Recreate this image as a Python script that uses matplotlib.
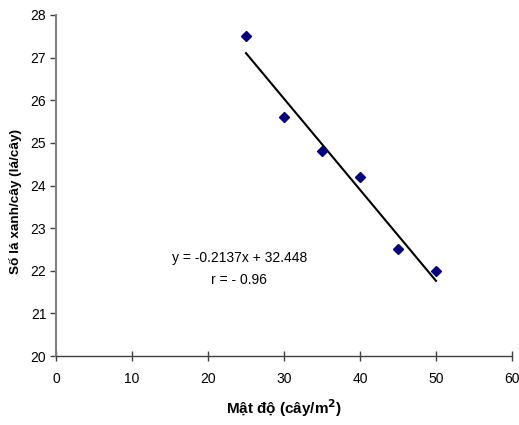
import numpy as np
import matplotlib
matplotlib.use('Agg')
import matplotlib.pyplot as plt

plt.rcParams['font.family'] = ['Liberation Sans', 'DejaVu Sans']

# mật độ trồng (cây/m2) và số lá xanh trên cây
mat_do = [25, 30, 35, 40, 45, 50]
so_la = [27.5, 25.6, 24.8, 24.2, 22.5, 22.0]
he_so_a = -0.2137
he_so_b = 32.448
phuong_trinh = 'y = -0.2137x + 32.448'
tuong_quan = 'r = - 0.96'

fig = plt.figure(figsize=(5.19, 4.25), dpi=100)
ax = fig.add_axes([56 / 519, 69 / 425, 456 / 519, 341 / 425])

x_line = np.array([min(mat_do), max(mat_do)])
ax.plot(x_line, he_so_a * x_line + he_so_b, color='black', lw=1.5, zorder=2)
ax.plot(mat_do, so_la, ls='none', marker='D', markersize=5.5, color='#000080', zorder=3)

ax.set_xlim(0, 60)
ax.set_ylim(20, 28)
ax.set_xticks(range(0, 61, 10))
ax.set_yticks(range(20, 29, 1))

for s in ['top', 'right']:
    ax.spines[s].set_visible(False)
ax.spines['left'].set_color('#808080')
ax.spines['left'].set_linewidth(1.5)
ax.spines['bottom'].set_color('#404040')
ax.spines['bottom'].set_linewidth(1.0)
ax.tick_params(axis='y', direction='out', length=4, width=1, color='#404040',
               labelsize=10, pad=3)
ax.tick_params(axis='x', direction='inout', length=7, width=1, color='#404040',
               labelsize=10, pad=8)

ax.text(24.1, 22.3, phuong_trinh, ha='center', va='center', fontsize=10)
ax.text(24.1, 21.78, tuong_quan, ha='center', va='center', fontsize=10)

ax.set_xlabel('Mật độ (cây/m$^\\mathbf{2}$)', fontsize=11, fontweight='bold', labelpad=8)
ax.set_ylabel('Số lá xanh/cây (lá/cây)', fontsize=9.7, fontweight='bold')
ax.yaxis.set_label_coords(-0.075, 0.452)

fig.savefig('out.png', dpi=100)
